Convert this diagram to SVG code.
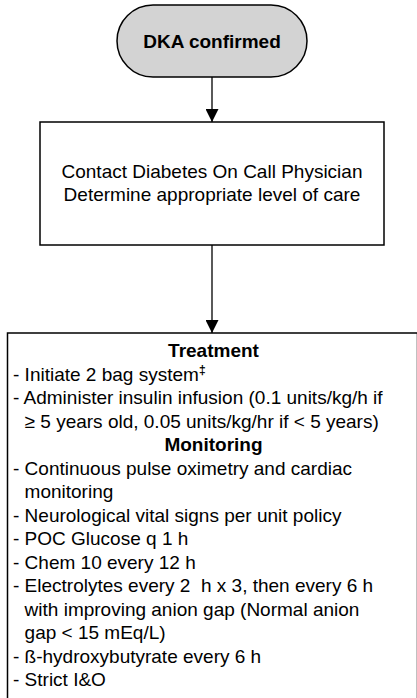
<svg xmlns="http://www.w3.org/2000/svg" width="417" height="698" viewBox="0 0 417 698">
  <defs>
    <style>
      .shape { stroke: #000; stroke-width: 1.5; }
      .t { font-family: "Liberation Sans", Arial, sans-serif; font-size: 19px; fill: #000; white-space: pre; }
      .b { font-weight: bold; }
      .c { text-anchor: middle; }
      .edge { stroke: #000; stroke-width: 1.3; fill: none; marker-end: url(#arrow); }
    </style>
    <marker id="arrow" viewBox="0 0 10 10" refX="10" refY="5" markerUnits="userSpaceOnUse" markerWidth="13" markerHeight="13" orient="auto">
      <path d="M0,0 L10,5 L0,10 Z" fill="#000"/>
    </marker>
  </defs>

  <g id="connectors">
    <line class="edge" x1="212" y1="77" x2="212" y2="122"/>
    <line class="edge" x1="212" y1="245" x2="212" y2="333"/>
  </g>

  <g id="dka-confirmed">
    <rect class="shape" x="117" y="5" width="190" height="72" rx="36" ry="36" fill="#d3d3d3"/>
    <text class="t b c" x="212" y="47.5">DKA confirmed</text>
  </g>

  <g id="contact-physician">
    <rect class="shape" x="40" y="122" width="344" height="123" fill="#fff"/>
    <text class="t c" x="212" y="178">Contact Diabetes On Call Physician</text>
    <text class="t c" x="212" y="201">Determine appropriate level of care</text>
  </g>

  <g id="treatment-monitoring">
    <rect class="shape" x="7.5" y="333" width="410" height="380" fill="#fff"/>
    <text class="t b c" x="213.5" y="357">Treatment</text>
    <text class="t" x="13" y="380.5">- Initiate 2 bag system<tspan class="b" font-size="12" dy="-7">‡</tspan></text>
    <text class="t" x="13" y="404">- Administer insulin infusion (0.1 units/kg/h if</text>
    <text class="t" x="24.6" y="427.5">≥ 5 years old, 0.05 units/kg/hr if &lt; 5 years)</text>
    <text class="t b c" x="213.5" y="451">Monitoring</text>
    <text class="t" x="13" y="474.5">- Continuous pulse oximetry and cardiac</text>
    <text class="t" x="24.6" y="498">monitoring</text>
    <text class="t" x="13" y="521.5">- Neurological vital signs per unit policy</text>
    <text class="t" x="13" y="545">- POC Glucose q 1 h</text>
    <text class="t" x="13" y="568.5">- Chem 10 every 12 h</text>
    <text class="t" x="13" y="592">- Electrolytes every 2  h x 3, then every 6 h</text>
    <text class="t" x="24.6" y="615.5">with improving anion gap (Normal anion</text>
    <text class="t" x="24.6" y="639">gap &lt; 15 mEq/L)</text>
    <text class="t" x="13" y="662.5">- ß-hydroxybutyrate every 6 h</text>
    <text class="t" x="13" y="686">- Strict I&amp;O</text>
  </g>
</svg>
